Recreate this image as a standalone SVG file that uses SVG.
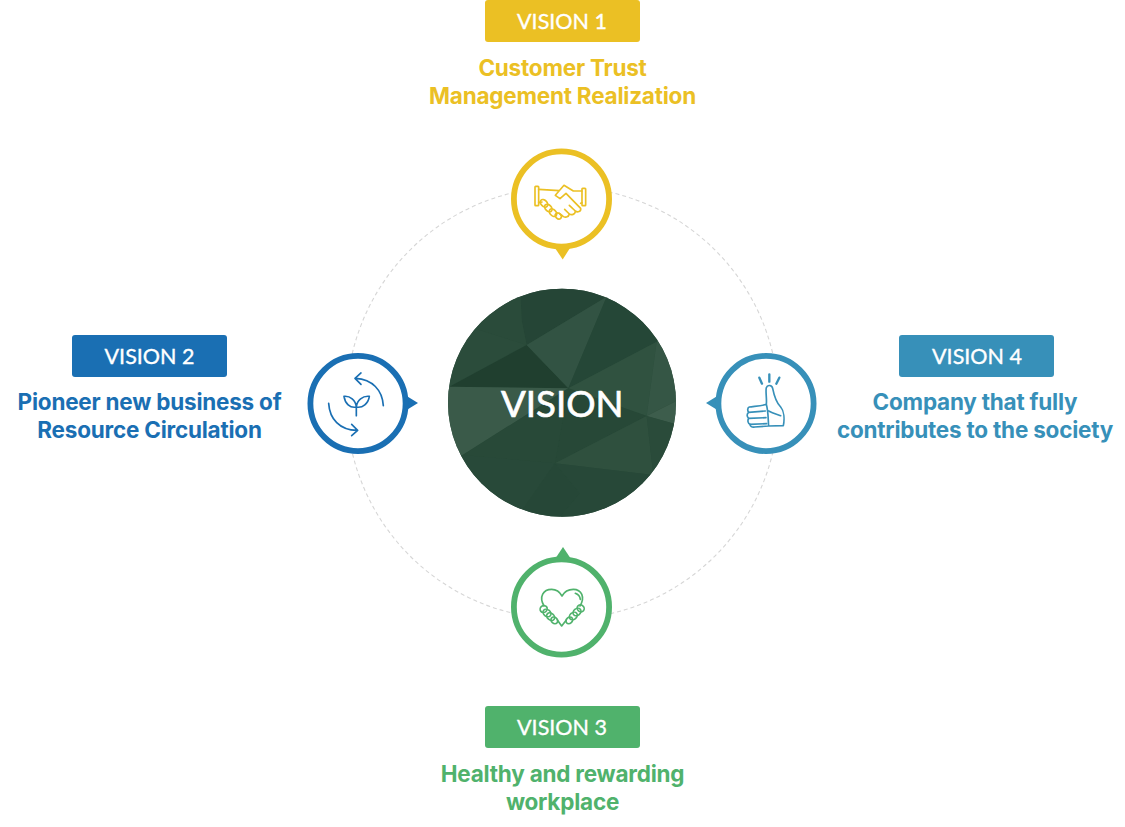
<svg xmlns="http://www.w3.org/2000/svg" width="1125" height="827" viewBox="0 0 1125 827">
<style>
.badge{font-family:Lato,"Liberation Sans",sans-serif;font-weight:400;font-size:21.5px;fill:#fff;stroke:#fff;stroke-width:.35px;text-anchor:middle}
.desc{font-family:Inter,"Liberation Sans",sans-serif;font-weight:700;font-size:22.5px;text-anchor:middle;letter-spacing:-0.22px}
.ring{fill:#fff;stroke-width:5.8}
.ic{fill:none;stroke-width:5;stroke-linecap:round;stroke-linejoin:round}
.y{fill:#ebc024}.b{fill:#1a6fb3}.g{fill:#50b26c}.t{fill:#3790b9}
</style>
<defs><clipPath id="cc"><circle cx="366" cy="368" r="342"/></clipPath></defs>
<g id="connectors"><circle cx="562.500" cy="403" r="216" fill="none" stroke="#d6d6d6" stroke-width="1.100" stroke-dasharray="4 3"/></g>

<g id="center" transform="translate(440 280) scale(.3333)">
<g clip-path="url(#cc)">
<rect width="735" height="735" fill="#2a4b3a"/>
<polygon points="240,0 500,0 500,50 260,195 245,120" fill="#254536"/>
<polygon points="240,0 245,120 260,195 110,148 0,148 0,0" fill="#2a4b3a"/>
<polygon points="110,148 260,195 28,320 0,320 0,148" fill="#2b4c3b"/>
<polygon points="260,195 385,325 28,320" fill="#203f2f"/>
<polygon points="500,50 260,195 385,325" fill="#325343"/>
<polygon points="500,0 735,0 735,130 650,185 385,325 500,50" fill="#254737"/>
<polygon points="650,185 620,408 385,325" fill="#305240"/>
<polygon points="650,185 735,130 735,350 620,408" fill="#355645"/>
<polygon points="735,350 735,440 620,408" fill="#3d5d4c"/>
<polygon points="28,320 385,325 68,525 0,525 0,320" fill="#3a5a49"/>
<polygon points="385,325 620,408 345,550" fill="#274837"/>
<polygon points="385,325 345,550 68,525" fill="#284938"/>
<polygon points="620,408 640,585 345,550" fill="#2f503e"/>
<polygon points="620,408 735,440 735,585 640,585" fill="#2a4b3a"/>
<polygon points="68,525 345,550 240,700 240,735 0,735 0,525" fill="#284939"/>
<polygon points="345,550 420,640 340,735 240,735 240,700" fill="#264737"/>
<polygon points="345,550 640,585 735,585 735,735 340,735 420,640" fill="#274838"/>
</g>
<text x="367" y="411" font-family="Lato,'Liberation Sans',sans-serif" font-weight="400" font-size="110" fill="#fff" stroke="#fff" stroke-width="2" text-anchor="middle">VISION</text>
</g>

<g id="vision1">
<rect x="485" y="0" width="155" height="42" rx="3" class="y"/>
<text x="562" y="29" class="badge">VISION 1</text>
<text x="562.500" y="76" class="desc y">Customer Trust</text>
<text x="562.500" y="104" class="desc y">Management Realization</text>
<polygon points="555,248 570,248 562.700,259.500" class="y"/>
<circle cx="561.500" cy="199" r="47.600" class="ring" stroke="#ebc024"/>
<g transform="translate(480 140) scale(.3333)" class="ic" stroke="#ebc024">
<rect x="165" y="139" width="11" height="58" rx="2"/>
<rect x="306" y="145" width="11" height="52" rx="2"/>
<path d="M176 148L238 152M306 153L280 153L252 136L226 166L240 176L258 160L302 205C304 215 292 218 286 213L268 196M286 213C286 224 274 226 268 222L254 208M268 222C266 232 254 234 248 228L238 220M176 188L186 186M302 190L306 188"/>
<ellipse cx="192" cy="190" rx="9" ry="13" transform="rotate(-45 192 190)"/>
<ellipse cx="205" cy="204" rx="9" ry="13" transform="rotate(-45 205 204)"/>
<ellipse cx="219" cy="218" rx="9" ry="13" transform="rotate(-45 219 218)"/>
<ellipse cx="235" cy="228" rx="8" ry="10" transform="rotate(-45 235 228)"/>
</g>
</g>

<g id="vision2">
<rect x="72" y="335" width="155" height="42" rx="3" class="b"/>
<text x="149.500" y="364" class="badge">VISION 2</text>
<text x="149.500" y="410" class="desc b">Pioneer new business of</text>
<text x="149.500" y="438" class="desc b">Resource Circulation</text>
<polygon points="405,395 405,411 418,403" class="b"/>
<circle cx="358" cy="403.500" r="47.600" class="ring" stroke="#1a6fb3"/>
<g transform="translate(295 345) scale(.3333)" class="ic" stroke="#1a6fb3">
<path d="M265 182C262 135 232 103 182 100M198 84L180 100L198 118"/>
<path d="M101 175C104 222 134 256 186 256M170 238L188 256L170 272"/>
<path d="M184 212L184 180M184 186C165 190 150 175 147 154C165 152 182 165 184 186C186 165 203 152 223 154C220 175 203 190 184 186"/>
</g>
</g>

<g id="vision3">
<rect x="485" y="706" width="155" height="42" rx="3" class="g"/>
<text x="562" y="735" class="badge">VISION 3</text>
<text x="562.500" y="782" class="desc g">Healthy and rewarding</text>
<text x="562.500" y="810" class="desc g">workplace</text>
<polygon points="555,559 571,559 563,547" class="g"/>
<circle cx="561.500" cy="607" r="47.600" class="ring" stroke="#50b26c"/>
<g transform="translate(500 540) scale(.3333)" class="ic" stroke="#50b26c">
<path d="M132 198C116 170 130 148 155 148C170 148 180 157 186 168C192 157 204 148 220 148C245 148 256 172 240 198M172 240L185 258L199 240M226 160C234 163 240 170 241 178"/>
<ellipse cx="131" cy="207" rx="11" ry="10" transform="rotate(-40 131 207)"/>
<ellipse cx="141" cy="219" rx="13" ry="10" transform="rotate(40 141 219)"/>
<ellipse cx="152" cy="230" rx="13" ry="10" transform="rotate(40 152 230)"/>
<ellipse cx="163" cy="241" rx="11" ry="9" transform="rotate(40 163 241)"/>
<ellipse cx="242" cy="205" rx="11" ry="10" transform="rotate(40 242 205)"/>
<ellipse cx="231" cy="216" rx="13" ry="10" transform="rotate(-40 231 216)"/>
<ellipse cx="220" cy="228" rx="13" ry="10" transform="rotate(-40 220 228)"/>
<ellipse cx="208" cy="241" rx="11" ry="9" transform="rotate(-40 208 241)"/>
</g>
</g>

<g id="vision4">
<rect x="899" y="335" width="155" height="42" rx="3" class="t"/>
<text x="977" y="364" class="badge">VISION 4</text>
<text x="975" y="410" class="desc t">Company that fully</text>
<text x="975" y="438" class="desc t">contributes to the society</text>
<polygon points="719,395 719,411 706,403" class="t"/>
<circle cx="766" cy="403.500" r="47.600" class="ring" stroke="#3790b9"/>
<g transform="translate(700 345) scale(.3333)" class="ic" stroke="#3790b9">
<path d="M208 88L208 110M178 98L186 116M238 98L229 116" stroke-width="7"/>
<path d="M199 178C201 160 196 140 199 128C202 118 216 120 218 130C222 150 228 172 242 186C252 198 254 222 250 242L206 243C204 225 206 205 199 178C190 182 160 184 148 186C142 188 142 198 146 202C140 206 140 216 146 220C142 226 144 236 150 238C150 244 156 248 164 246L206 243"/>
<path d="M146 202L196 198M146 220L198 218M150 238L200 236M206 198C220 206 232 208 242 212"/>
</g>
</g>
</svg>
